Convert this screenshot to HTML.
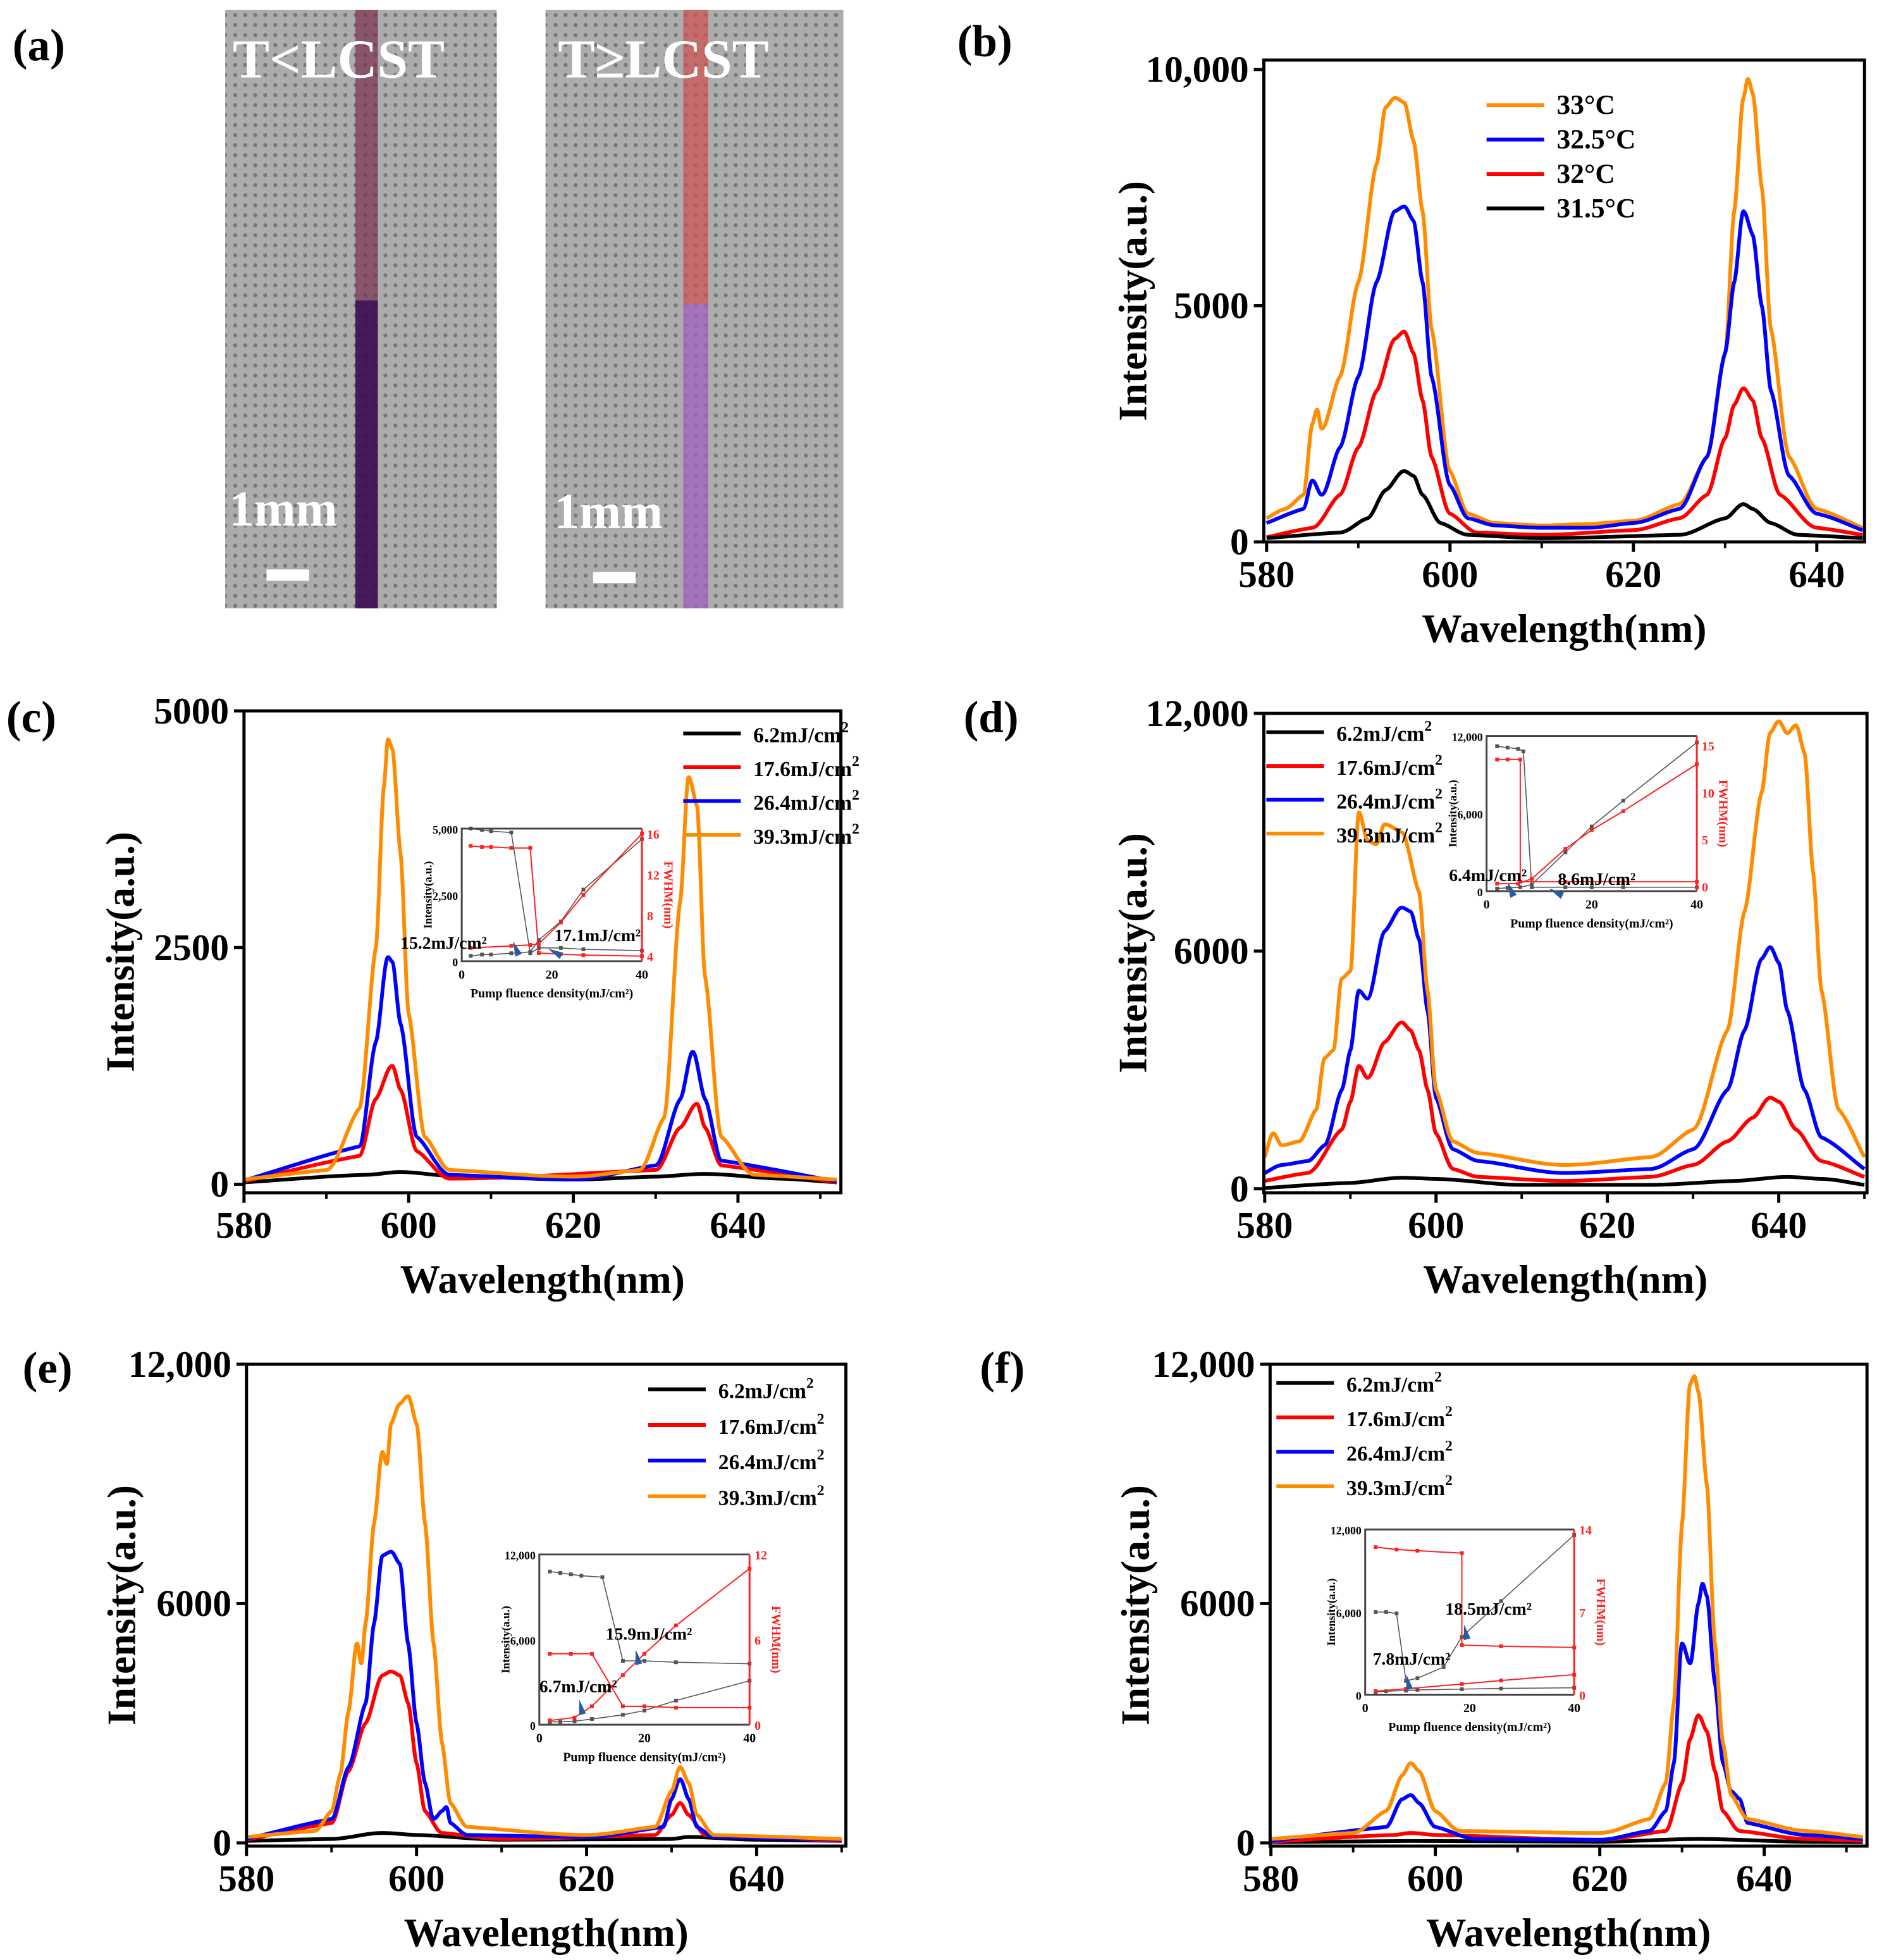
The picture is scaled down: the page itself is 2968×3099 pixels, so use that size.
<!DOCTYPE html>
<html><head><meta charset="utf-8">
<style>
html,body{margin:0;padding:0;background:#fff;}
svg{display:block;}
text{font-family:"Liberation Serif",serif;font-weight:bold;}
</style></head>
<body>
<svg id="fig" width="2968" height="3099" viewBox="0 0 1500 1566" preserveAspectRatio="none" xmlns="http://www.w3.org/2000/svg">
<defs>
<pattern id="holes" width="8" height="8" patternUnits="userSpaceOnUse">
<rect width="8" height="8" fill="#acacac"/>
<circle cx="4" cy="4" r="1.6" fill="#777"/>
</pattern>
</defs>
<g id="panelA">
<text x="10" y="48" font-size="36">(a)</text>
<rect x="180" y="8" width="217" height="478" fill="url(#holes)"/>
<rect x="284" y="8" width="18" height="232" fill="#7a3050" opacity="0.7"/>
<rect x="284" y="240" width="18" height="246" fill="#3a0a50" opacity="0.9"/>
<text x="186" y="62" font-size="44" fill="#fff">T&lt;LCST</text>
<text x="183" y="420" font-size="40" fill="#fff">1mm</text>
<rect x="213" y="455" width="34" height="9" fill="#fff"/>
<rect x="436" y="8" width="238" height="478" fill="url(#holes)"/>
<rect x="546" y="8" width="20" height="235" fill="#d05050" opacity="0.7"/>
<rect x="546" y="243" width="20" height="243" fill="#a060c0" opacity="0.75"/>
<text x="446" y="62" font-size="44" fill="#fff">T≥LCST</text>
<text x="443" y="422" font-size="40" fill="#fff">1mm</text>
<rect x="474" y="457" width="34" height="9" fill="#fff"/>
</g>
</svg>
<script>
// ===== Panel b data (wavelength nm, intensity) =====
const b_33C=[[580,500],[582,700],[584,1000],[585,2500],[585.5,2800],[586,2400],[588,3500],[590,5500],[592,8000],[593,9200],[594,9400],[595,9300],[596,8500],[597,7000],[598,4500],[600,1500],[602,600],[605,400],[610,350],[615,380],[620,450],[625,800],[628,1800],[630,4000],[631,7000],[632,9400],[632.5,9800],[633,9500],[634,7500],[635,4500],[637,1800],[640,700],[645,300]];
const b_325C=[[580,400],[584,700],[585,1300],[586,1000],[588,2000],[590,3500],[592,5500],[594,7000],[595,7100],[596,6800],[597,5500],[598,3500],[600,1200],[602,500],[605,350],[610,300],[615,300],[620,400],[625,700],[628,1800],[630,4000],[631,5500],[632,7000],[633,6500],[634,5000],[635,3200],[637,1400],[640,600],[645,250]];
const b_32C=[[580,100],[585,300],[588,1000],[590,2000],[592,3200],[594,4300],[595,4450],[596,4000],[597,3000],[598,1800],[600,600],[603,200],[610,150],[620,250],[625,500],[628,1000],[630,2200],[631,2900],[632,3250],[633,3000],[634,2200],[636,1000],[640,300],[645,150]];
const b_315C=[[580,80],[588,200],[591,500],[593,1100],[595,1500],[596,1400],[597,1000],[599,400],[602,150],[610,80],[625,150],[630,500],[632,800],[633,700],[635,400],[638,150],[645,80]];
const b_yTicks=[0,5000,10000];
const b_yLabels=["0","5000","10,000"];
const xTicks=[580,600,620,640];
// ===== Panel c =====
const c_39=[[580,50],[590,150],[594,800],[596,2500],[597,4200],[597.5,4700],[598,4600],[599,3500],[600,1800],[602,500],[605,150],[620,80],[628,150],[631,700],[633,3000],[634,4300],[635,4000],[636,2200],[638,500],[642,100],[652,50]];
const c_26=[[580,40],[594,400],[596,1500],[597.5,2400],[598,2350],[599,1700],[601,500],[605,100],[620,50],[630,200],[633,900],[634.5,1400],[636,900],[638,250],[652,30]];
const c_17=[[580,30],[594,300],[596,900],[598,1250],[599,1000],[601,350],[605,60],[630,150],[633,600],[635,850],[636,600],[638,200],[652,20]];
const c_6=[[580,20],[595,100],[599,130],[605,90],[620,50],[630,80],[636,110],[645,60],[652,20]];
const c_yTicks=[0,2500,5000];
const c_yLabels=["0","2500","5000"];
// ===== Panel d =====
const d_39=[[580,800],[581,1400],[582,1100],[584,1200],[586,2000],[587,3300],[588,3500],[589,5300],[590,5500],[591,9500],[592,8800],[593,8700],[594,9200],[596,9000],[598,7500],[599,5000],[600,2500],[602,1200],[605,900],[615,600],[625,800],[630,1500],[634,4000],[636,7000],[638,10000],[639,11500],[640,11800],[641,11500],[642,11700],[643,11000],[644,8000],[645,5000],[647,2000],[650,800]];
const d_26=[[580,400],[582,600],[585,700],[587,1100],[589,2500],[590,3500],[591,5000],[592,4800],[594,6500],[596,7100],[597,7000],[598,6300],[599,4500],[600,2300],[602,1000],[605,700],[615,400],[625,500],[630,1000],[634,2500],[636,4000],[638,5800],[639,6100],[640,5700],[641,4500],[643,2500],[645,1300],[650,500]];
const d_17=[[580,200],[585,400],[589,1500],[590,2200],[591,3100],[592,2800],[594,3700],[596,4200],[597,4000],[598,3500],[599,2500],[600,1400],[602,500],[605,300],[615,200],[625,300],[630,600],[634,1200],[637,1800],[639,2300],[640,2200],[642,1500],[645,700],[650,300]];
const d_6=[[580,20],[590,150],[596,280],[600,250],[610,100],[625,100],[635,200],[641,300],[645,250],[650,100]];
const big_yTicks=[0,6000,12000];
const big_yLabels=["0","6000","12,000"];
// ===== Panel e =====
const e_39=[[580,150],[588,300],[590,800],[591,1700],[592,3300],[593,5000],[593.5,4500],[594,5500],[595,8000],[596,9800],[596.5,9500],[597,10500],[598,11000],[599,11200],[600,10500],[601,8000],[602,5000],[603,2500],[604,1000],[606,400],[620,200],[628,400],[630,1300],[631,1900],[632,1500],[633,700],[635,200],[650,100]];
const e_26=[[580,100],[590,600],[592,1900],[594,3500],[595,5500],[596,7200],[597,7300],[598,7000],[599,5000],[600,3000],[601,1500],[602,600],[603,800],[603.5,900],[604,500],[606,200],[620,150],[629,400],[630,1100],[631,1600],[632,1100],[633,400],[635,150],[650,80]];
const e_17=[[580,80],[590,500],[592,1800],[594,3000],[596,4200],[597,4300],[598,4200],[599,3500],[600,2000],[601,800],[603,250],[610,100],[628,200],[630,700],[631,1000],[632,700],[634,200],[650,50]];
const e_6=[[580,50],[590,100],[596,250],[600,200],[610,80],[630,100],[632,150],[640,80],[650,50]];
// ===== Panel f =====
const f_39=[[580,100],[590,250],[594,800],[596,1700],[597,2000],[598,1800],[600,800],[603,300],[620,250],[626,600],[628,1500],[629,3500],[630,8000],[631,11500],[631.5,11700],[632,11300],[633,9000],[634,5000],[635,2500],[636,1200],[638,600],[645,300],[652,150]];
const f_26=[[580,50],[594,400],[596,1100],[597,1200],[598,1000],[600,400],[605,100],[620,80],[626,300],[628,800],[629,2000],[630,5000],[631,4500],[632,6000],[632.5,6500],[633,6200],[634,4000],[635,2000],[636,1300],[637,1100],[638,500],[645,200],[652,100]];
const f_17=[[580,30],[595,200],[597,250],[600,200],[620,80],[628,300],[630,1500],[631,2600],[632,3200],[633,2800],[634,1800],[635,800],[637,300],[645,100],[652,50]];
const f_6=[[580,20],[597,50],[620,30],[632,100],[645,30],[652,20]];
// ===== Inset data (fluence mJ/cm2, intensity / FWHM) =====
const ic_int1=[[2,5000],[4.5,4950],[6.5,4900],[11,4850],[15.2,300],[17.1,500],[22,500],[27,450],[40,400]];
const ic_int2=[[2,200],[4.5,250],[6.5,250],[11,300],[15.2,350],[17.1,800],[22,1500],[27,2700],[40,4600]];
const ic_fw1=[[2,14.8],[4.5,14.7],[6.5,14.7],[11,14.6],[15.2,14.6],[17.1,4.3],[22,4.2],[27,4.1],[40,4.0]];
const ic_fw2=[[2,4.8],[11,5.0],[15.2,5.1],[17.1,5.2],[22,7.3],[27,10.0],[40,16.0]];
const id_int1=[[2,11200],[4,11100],[6,11000],[7,10800],[8.6,300],[15,300],[20,300],[26,300],[40,300]];
const id_int2=[[2,200],[4,250],[6.4,300],[8.6,500],[15,3000],[20,5000],[26,7000],[40,11500]];
const id_fw1=[[2,13.5],[4,13.5],[6.4,13.5],[6.4,0.5],[15,0.5],[26,0.5],[40,0.5]];
const id_fw2=[[2,0.3],[6,0.3],[8.6,0.8],[15,4],[20,6],[26,8],[40,13]];
const ie_int1=[[2,10800],[4,10700],[6,10600],[8,10500],[12,10400],[15.9,4500],[20,4500],[26,4400],[40,4300]];
const ie_int2=[[2,200],[4,200],[6.7,250],[10,400],[15.9,700],[20,1000],[26,1700],[40,3100]];
const ie_fw1=[[2,5],[6,5],[10,5],[15.9,1.3],[20,1.3],[26,1.2],[40,1.2]];
const ie_fw2=[[2,0.3],[6.7,0.5],[10,1.3],[15.9,3.5],[20,5],[26,7],[40,11]];
const if_int1=[[2,6000],[4,6000],[6,5900],[7.8,1000],[10,1200],[15,2000],[18.5,4200],[26,6800],[40,11600]];
const if_int2=[[2,200],[4,250],[7.8,300],[10,350],[18.5,400],[26,450],[40,500]];
const if_fw1=[[2,12.5],[6,12.3],[10,12.2],[18.5,12.0],[18.5,4.2],[26,4.1],[40,4.0]];
const if_fw2=[[2,0.3],[7.8,0.5],[18.5,0.9],[26,1.2],[40,1.7]];
const inset_xTicks=[0,20,40];

const NS="http://www.w3.org/2000/svg";
const svg=document.getElementById('fig');
function mk(tag,attrs,parent){const e=document.createElementNS(NS,tag);for(const k in attrs)e.setAttribute(k,attrs[k]);(parent||svg).appendChild(e);return e;}
function txt(x,y,s,size,parent,extra){const t=mk('text',Object.assign({x:x,y:y,'font-size':size},extra||{}),parent);t.textContent=s;return t;}
function lin(d0,d1,r0,r1){return v=>r0+(v-d0)/(d1-d0)*(r1-r0);}

// monotone cubic path through screen points
function smoothPath(P){
  const n=P.length; if(n<3) return 'M'+P.map(p=>p.join(',')).join('L');
  const dx=[],m=[],t=[];
  for(let i=0;i<n-1;i++){dx[i]=P[i+1][0]-P[i][0];m[i]=(P[i+1][1]-P[i][1])/dx[i];}
  t[0]=m[0];t[n-1]=m[n-2];
  for(let i=1;i<n-1;i++){t[i]=(m[i-1]*m[i]<=0)?0:(dx[i-1]+dx[i])/((2*dx[i]+dx[i-1])/m[i-1]+(dx[i]+2*dx[i-1])/m[i]);}
  let d='M'+P[0][0].toFixed(1)+','+P[0][1].toFixed(1);
  for(let i=0;i<n-1;i++){
    const h=dx[i]/3;
    d+='C'+(P[i][0]+h).toFixed(1)+','+(P[i][1]+t[i]*h).toFixed(1)+' '+(P[i+1][0]-h).toFixed(1)+','+(P[i+1][1]-t[i+1]*h).toFixed(1)+' '+P[i+1][0].toFixed(1)+','+P[i+1][1].toFixed(1);
  }
  return d;
}

const COL={o:'#ff8c00',b:'#0000ff',r:'#ff0000',k:'#000000'};

function panel(p){
  const g=mk('g',{});
  
  
  const X=lin(p.xd[0],p.xd[1],p.x0,p.x1), Y=lin(p.yd[0],p.yd[1],p.y1,p.y0);
  const lab=txt(p.labx,p.laby,p.label,36,g);
  
  
  p.series.forEach(s=>{
    const pts=s.data.map(d=>[X(d[0]),Y(d[1])]);
    const pl=mk('path',{d:smoothPath(pts),fill:'none',stroke:s.c,'stroke-width':3,'stroke-linejoin':'round'},g);
    
    
  });
  const fr=mk('rect',{x:p.x0,y:p.y0,width:p.x1-p.x0,height:p.y1-p.y0,fill:'none',stroke:'#000','stroke-width':2.5},g);
  
  
  xTicks.forEach(v=>{
    const x=X(v);
    mk('line',{x1:x,y1:p.y1,x2:x,y2:p.y1+8,stroke:'#000','stroke-width':2.5},g);
    const t=txt(x,p.y1+36,String(v),30,g,{'text-anchor':'middle'});
    
    
  });
  [590,610,630,650].forEach(v=>{if(v<=p.xd[1]){const x=X(v);mk('line',{x1:x,y1:p.y1,x2:x,y2:p.y1+5,stroke:'#000','stroke-width':2},g);}});
  p.yt.forEach((v,i)=>{
    const y=Y(v);
    mk('line',{x1:p.x0-8,y1:y,x2:p.x0,y2:y,stroke:'#000','stroke-width':2.5},g);
    const t=txt(p.x0-12,y+10,p.yl[i],30,g,{'text-anchor':'end'});
    
    
  });
  const xt=txt((p.x0+p.x1)/2,p.y1+80,'Wavelength(nm)',32,g,{'text-anchor':'middle'});
  
  
  const yx=p.ytx, yy=(p.y0+p.y1)/2;
  const yt=txt(yx,yy,'Intensity(a.u.)',32,g,{'text-anchor':'middle',transform:'rotate(-90 '+yx+' '+yy+')'});
  
  
  p.series.forEach((s,i)=>{
    const ly=p.lg[1]+i*p.lg[2];
    const lg=mk('g',{},g);
    
    
    mk('line',{x1:p.lg[0],y1:ly,x2:p.lg[0]+46,y2:ly,stroke:s.c,'stroke-width':3},lg);
    const t=txt(p.lg[0]+56,ly+7,s.n,p.lg[3],lg);
    if(s.sup){const ts=mk('tspan',{'font-size':p.lg[3]*0.7,dy:-8},t);ts.textContent='2';}
  });
  if(p.inset) inset(g,p.inset);
}

function inset(parent,q){
  const g=mk('g',{},parent);
  
  
  const X=lin(0,40,q.x0,q.x1), Y=lin(q.yd[0],q.yd[1],q.y1,q.y0), Y2=lin(q.y2d[0],q.y2d[1],q.y1,q.y0);
  const draw=(arr,yf,c,w,n)=>{
    const pl=mk('polyline',{points:arr.map(d=>X(d[0]).toFixed(1)+','+yf(d[1]).toFixed(1)).join(' '),fill:'none',stroke:c,'stroke-width':w},g);
    
    
    arr.forEach(d=>mk('rect',{x:X(d[0])-1.5,y:yf(d[1])-1.5,width:3,height:3,fill:c},g));
  };
  draw(q.i1,Y,'#555',0.8,'inset-intensity-a');
  draw(q.i2,Y,'#555',0.8,'inset-intensity-b');
  draw(q.f1,Y2,'#ff2020',1,'inset-fwhm-a');
  draw(q.f2,Y2,'#ff2020',1,'inset-fwhm-b');
  mk('polyline',{points:[q.x1,q.y0,q.x0,q.y0,q.x0,q.y1,q.x1,q.y1].join(' '),fill:'none',stroke:'#444','stroke-width':1.5},g);
  mk('line',{x1:q.x1,y1:q.y0,x2:q.x1,y2:q.y1,stroke:'#ff2020','stroke-width':1.5},g);
  inset_xTicks.forEach(v=>{txt(X(v),q.y1+14,String(v),10,g,{'text-anchor':'middle'});});
  q.yl.forEach(v=>{txt(q.x0-3,Y(v)+4,v===0?'0':v.toLocaleString('en-US'),9,g,{'text-anchor':'end'});});
  q.y2l.forEach(v=>{txt(q.x1+4,Y2(v)+4,String(v),10,g,{fill:'#ff2020'});});
  txt((q.x0+q.x1)/2,q.y1+29,'Pump fluence density(mJ/cm²)',10,g,{'text-anchor':'middle'});
  const lx=q.x0-24,ly=(q.y0+q.y1)/2;
  txt(lx,ly,'Intensity(a.u.)',9,g,{'text-anchor':'middle',transform:'rotate(-90 '+lx+' '+ly+')'});
  const rx=q.x1+18;
  txt(rx,ly,'FWHM(nm)',10,g,{'text-anchor':'middle',fill:'#ff2020',transform:'rotate(90 '+rx+' '+ly+')'});
  q.ann.forEach(a=>{
    const t=txt(a[0],a[1],a[2],14,g);
    
    
    mk('path',{d:'M'+a[3]+' '+a[4]+' l10 7 l-4 4 z',fill:'#2a5aa0',transform:'rotate('+a[5]+' '+a[3]+' '+a[4]+')'},g);
  });
}

const lab4=['6.2mJ/cm','17.6mJ/cm','26.4mJ/cm','39.3mJ/cm'];
panel({name:'panel-b-temperature-spectra',label:'(b)',labx:765,laby:45,x0:1010,x1:1490,y0:48,y1:433,xd:[579.7,645.2],yd:[0,10200],yt:b_yTicks,yl:b_yLabels,ytx:916,
 series:[{n:'33°C',c:COL.o,data:b_33C},{n:'32.5°C',c:COL.b,data:b_325C},{n:'32°C',c:COL.r,data:b_32C},{n:'31.5°C',c:COL.k,data:b_315C}],lg:[1188,84,27.5,22]});
panel({name:'panel-c-fluence-spectra',label:'(c)',labx:5,laby:585,x0:195,x1:672,y0:568,y1:953,xd:[580,652.5],yd:[-90,5000],yt:c_yTicks,yl:c_yLabels,ytx:107,
 series:[{n:lab4[0],c:COL.k,data:c_6,sup:1},{n:lab4[1],c:COL.r,data:c_17,sup:1},{n:lab4[2],c:COL.b,data:c_26,sup:1},{n:lab4[3],c:COL.o,data:c_39,sup:1}],lg:[546,586,27,17],
 inset:{x0:369,x1:513,y0:662,y1:768,yd:[0,5000],y2d:[3.5,16.5],yl:[0,2500,5000],y2l:[4,8,12,16],i1:ic_int1,i2:ic_int2,f1:ic_fw1,f2:ic_fw2,
  ann:[[320,758,'15.2mJ/cm²',410,752,20],[443,752,'17.1mJ/cm²',438,758,-20]]}});
panel({name:'panel-d-fluence-spectra',label:'(d)',labx:770,laby:585,x0:1010,x1:1492,y0:570,y1:953,xd:[579.9,650.3],yd:[-100,12000],yt:big_yTicks,yl:big_yLabels,ytx:916,
 series:[{n:lab4[0],c:COL.k,data:d_6,sup:1},{n:lab4[1],c:COL.r,data:d_17,sup:1},{n:lab4[2],c:COL.b,data:d_26,sup:1},{n:lab4[3],c:COL.o,data:d_39,sup:1}],lg:[1012,585,27,17],
 inset:{x0:1188,x1:1356,y0:588,y1:712,yd:[0,12000],y2d:[-0.5,16],yl:[0,6000,12000],y2l:[0,5,10,15],i1:id_int1,i2:id_int2,f1:id_fw1,f2:id_fw2,
  ann:[[1158,704,'6.4mJ/cm²',1205,705,20],[1245,707,'8.6mJ/cm²',1238,710,-20]]}});
panel({name:'panel-e-fluence-spectra',label:'(e)',labx:18,laby:1105,x0:197,x1:676,y0:1090,y1:1475,xd:[580,650.5],yd:[-80,12000],yt:big_yTicks,yl:big_yLabels,ytx:108,
 series:[{n:lab4[0],c:COL.k,data:e_6,sup:1},{n:lab4[1],c:COL.r,data:e_17,sup:1},{n:lab4[2],c:COL.b,data:e_26,sup:1},{n:lab4[3],c:COL.o,data:e_39,sup:1}],lg:[518,1110,28.5,17],
 inset:{x0:431,x1:599,y0:1242,y1:1378,yd:[0,12000],y2d:[0,12],yl:[0,6000,12000],y2l:[0,6,12],i1:ie_int1,i2:ie_int2,f1:ie_fw1,f2:ie_fw2,
  ann:[[484,1310,'15.9mJ/cm²',508,1318,30],[431,1352,'6.7mJ/cm²',463,1358,30]]}});
panel({name:'panel-f-fluence-spectra',label:'(f)',labx:783,laby:1105,x0:1015,x1:1492,y0:1090,y1:1475,xd:[579.9,652.5],yd:[-80,12000],yt:big_yTicks,yl:big_yLabels,ytx:918,
 series:[{n:lab4[0],c:COL.k,data:f_6,sup:1},{n:lab4[1],c:COL.r,data:f_17,sup:1},{n:lab4[2],c:COL.b,data:f_26,sup:1},{n:lab4[3],c:COL.o,data:f_39,sup:1}],lg:[1020,1105,27.5,17],
 inset:{x0:1091,x1:1258,y0:1222,y1:1354,yd:[0,12000],y2d:[0,14],yl:[0,6000,12000],y2l:[0,7,14],i1:if_int1,i2:if_int2,f1:if_fw1,f2:if_fw2,
  ann:[[1155,1290,'18.5mJ/cm²',1170,1298,30],[1097,1330,'7.8mJ/cm²',1124,1338,30]]}});
</script>
</body></html>
